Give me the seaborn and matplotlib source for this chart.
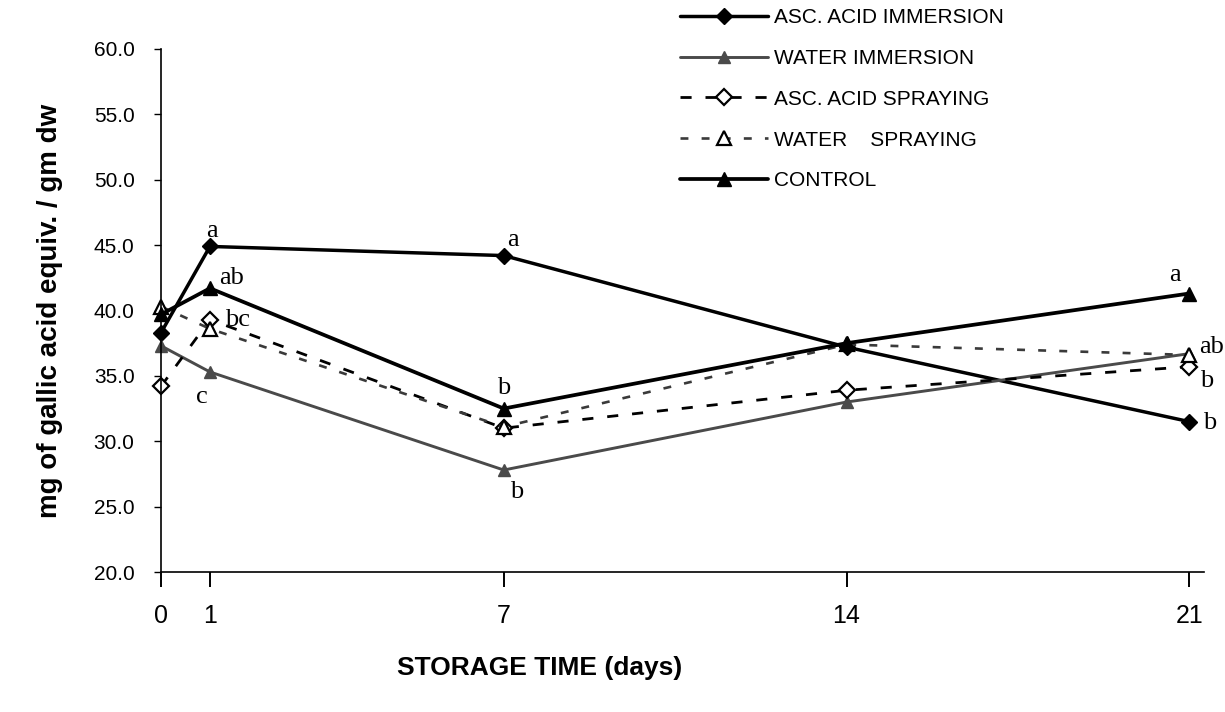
import matplotlib
matplotlib.use("Agg")
import matplotlib.pyplot as plt
import seaborn as sns
import numpy as np

# --- data -------------------------------------------------------------
days = [0, 1, 7, 14, 21]
tick_labels = ["0", "1", "7", "14", "21"]

asc_acid_immersion = [38.3, 44.9, 44.2, 37.2, 31.5]
water_immersion = [37.3, 35.3, 27.8, 33.0, 36.7]
asc_acid_spraying = [34.2, 39.3, 31.0, 33.9, 35.7]
water_spraying = [40.3, 38.6, 31.1, 37.4, 36.6]
control = [39.7, 41.7, 32.5, 37.5, 41.3]

series_names = ["ASC. ACID IMMERSION", "WATER IMMERSION", "ASC. ACID SPRAYING",
                "WATER    SPRAYING", "CONTROL"]

# significance letters: (series index, day, letter)
letters = [
    (0, 1, "a"), (4, 1, "ab"), (2, 1, "bc"), (1, 1, "c"),
    (0, 7, "a"), (4, 7, "b"), (1, 7, "b"),
    (4, 21, "a"), (3, 21, "ab"), (2, 21, "b"), (0, 21, "b"),
]

# --- style ------------------------------------------------------------
sns.set_theme(style="white")
plt.rcParams["font.family"] = ["Liberation Sans", "DejaVu Sans"]
for key in ["text.color", "axes.labelcolor", "xtick.color", "ytick.color"]:
    plt.rcParams[key] = "black"

fig = plt.figure(figsize=(12.25, 7.12), dpi=100)
ax = fig.add_axes([161 / 1225, 1 - 572 / 712, (1204 - 161) / 1225, (572 - 49) / 712])

styles = [
    dict(color="black", lw=2.5, ls="-", marker="D", ms=8, mfc="black", mec="black"),
    dict(color="#4a4a4a", lw=2.1, ls="-", marker="^", ms=9, mfc="#4a4a4a", mec="#4a4a4a"),
    dict(color="black", lw=2.0, ls=(0, (4, 5)), marker="D", ms=8, mfc="white", mec="black", mew=1.6),
    dict(color="#3a3a3a", lw=1.9, ls=(0, (3, 5)), marker="^", ms=10, mfc="white", mec="black", mew=1.6),
    dict(color="black", lw=2.7, ls="-", marker="^", ms=10, mfc="black", mec="black"),
]
all_series = [asc_acid_immersion, water_immersion, asc_acid_spraying, water_spraying, control]

for name, vals, st in zip(series_names, all_series, styles):
    sns.lineplot(x=days, y=vals, ax=ax, label=name, color=st["color"], linewidth=st["lw"],
                 linestyle=st["ls"], marker=st["marker"], markersize=st["ms"],
                 markerfacecolor=st["mfc"], markeredgecolor=st["mec"],
                 markeredgewidth=st.get("mew", 1.0), clip_on=False)

# letter placement relative to its point, in pixels
offsets = {
    (0, 1): (2, 15), (4, 1): (22, 10), (2, 1): (28, 0), (1, 1): (-8, -25),
    (0, 7): (9, 16), (4, 7): (0, 21), (1, 7): (13, -22),
    (4, 21): (-14, 19), (3, 21): (22, 8), (2, 21): (17, -14), (0, 21): (20, -1),
}
for si, d, txt in letters:
    y = all_series[si][days.index(d)]
    ax.annotate(txt, xy=(d, y), xytext=offsets[(si, d)], textcoords="offset pixels",
                ha="center", va="center", fontsize=19, family="Liberation Serif",
                color="black")

ax.set_xlim(0, 21.3)
ax.set_ylim(20, 60)
ax.set_xticks(days)
ax.set_xticks(days, minor=True)
ax.set_xticklabels(tick_labels, fontsize=18)
yt = np.arange(20, 60.1, 5)
ax.set_yticks(yt)
ax.set_yticklabels([f"{v:.1f}" for v in yt], fontsize=15)

for s in ["top", "right"]:
    ax.spines[s].set_visible(False)
for s in ["left", "bottom"]:
    ax.spines[s].set_color("black")
    ax.spines[s].set_linewidth(1.2)

ax.tick_params(axis="y", direction="out", length=5, width=1, color="black", pad=14, left=True)
ax.tick_params(axis="x", which="major", direction="out", length=11, width=1.4,
               color="black", pad=12, bottom=True)
ax.tick_params(axis="x", which="minor", direction="in", length=5, width=1.4,
               color="black", bottom=True)

ax.set_xlabel("")
fig.text(540 / 1225, 1 - 668 / 712, "STORAGE TIME (days)", fontsize=19,
         fontweight="bold", ha="center", va="center", color="black")
ax.set_ylabel("mg of gallic acid equiv. / gm dw", fontsize=20, fontweight="bold",
              labelpad=22, color="black")

leg = ax.legend(loc="upper left", bbox_to_anchor=(680 / 1225, 1 - 8 / 712),
                bbox_transform=fig.transFigure, frameon=False, fontsize=15,
                handlelength=4.2, labelspacing=1.05, borderpad=0, borderaxespad=0,
                handletextpad=0.3, numpoints=1)
for t in leg.get_texts():
    t.set_color("black")

fig.savefig("out.png", dpi=100)
